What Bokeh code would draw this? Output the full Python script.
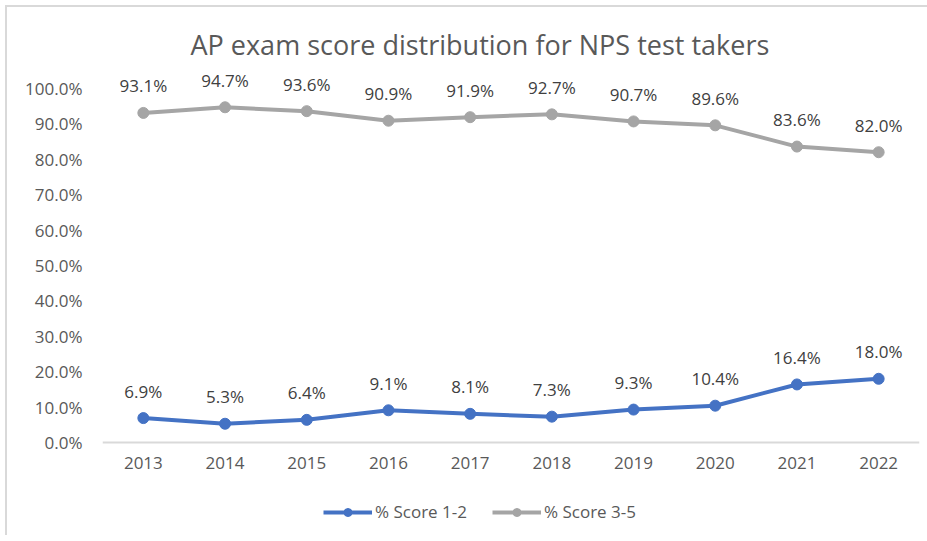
from bokeh.plotting import figure
from bokeh.models import (ColumnDataSource, FactorRange, Range1d, Legend, LegendItem,
                          PrintfTickFormatter, LabelSet)
from bokeh.core.properties import value
from bokeh.embed import file_html
from bokeh.resources import INLINE

years = ["2013", "2014", "2015", "2016", "2017", "2018", "2019", "2020", "2021", "2022"]
score_1_2 = [6.9, 5.3, 6.4, 9.1, 8.1, 7.3, 9.3, 10.4, 16.4, 18.0]
score_3_5 = [93.1, 94.7, 93.6, 90.9, 91.9, 92.7, 90.7, 89.6, 83.6, 82.0]
y_ticks = [0, 10, 20, 30, 40, 50, 60, 70, 80, 90, 100]

FONT = "Open Sans"
BLUE = "#4472C4"
GRAY = "#A5A5A5"
TXT = "#595959"

src = ColumnDataSource(dict(
    x=years, a=score_1_2, b=score_3_5,
    la=[f"{v:.1f}%" for v in score_1_2],
    lb=[f"{v:.1f}%" for v in score_3_5],
))

# frame extends above 100% and below 0% so that labels and legend are not clipped
p = figure(width=927, height=535, x_range=FactorRange(factors=years, range_padding=0),
           y_range=Range1d(-26.27, 106.5), output_backend="svg", toolbar_location=None,
           min_border_left=102, min_border_right=8, min_border_top=65, min_border_bottom=0)
p.outline_line_color = None
p.xgrid.grid_line_color = None
p.ygrid.grid_line_color = None
p.background_fill_color = "white"
p.border_fill_color = None
p.styles = {"background-color": "white",
            "box-shadow": "inset 5px 5px 0 0 white, inset 7px 7px 0 0 #d9d9d9"}

p.title.text = "AP exam score distribution for NPS test takers"
p.title.align = "left"
p.title.offset = 88
p.title.text_font = FONT
p.title.text_font_size = "27px"
p.title.text_font_style = "normal"
p.title.text_color = TXT
p.title.standoff = 5

l1 = p.line("x", "a", source=src, line_color=BLUE, line_width=4)
c1 = p.scatter("x", "a", source=src, size=11, fill_color=BLUE, line_color=BLUE)
l2 = p.line("x", "b", source=src, line_color=GRAY, line_width=4)
c2 = p.scatter("x", "b", source=src, size=11, fill_color=GRAY, line_color=GRAY)

for col, lab in (("a", "la"), ("b", "lb")):
    p.add_layout(LabelSet(x="x", y=col, text=lab, source=src, y_offset=27,
                          text_align="center", text_baseline="middle",
                          text_font=value(FONT), text_font_size="17px", text_color="#404040"))

p.yaxis.ticker = y_ticks
p.yaxis.formatter = PrintfTickFormatter(format="%.1f%%")
p.yaxis.axis_line_color = None
p.yaxis.major_tick_line_color = None
p.yaxis.minor_tick_line_color = None
p.yaxis.major_tick_out = 0
p.yaxis.major_label_standoff = 20
p.yaxis.major_label_text_font = FONT
p.yaxis.major_label_text_font_size = "17px"
p.yaxis.major_label_text_color = TXT

p.xaxis.fixed_location = 0
p.xaxis.axis_line_color = "#d9d9d9"
p.xaxis.axis_line_width = 2
p.xaxis.major_tick_line_color = None
p.xaxis.major_tick_out = 0
p.xaxis.major_label_standoff = 14
p.xaxis.major_label_text_font = FONT
p.xaxis.major_label_text_font_size = "17px"
p.xaxis.major_label_text_color = TXT

legend = Legend(items=[LegendItem(label="% Score 1-2", renderers=[l1, c1]),
                       LegendItem(label="% Score 3-5", renderers=[l2, c2])],
                orientation="horizontal", location=(221, 12))
legend.border_line_color = None
legend.background_fill_alpha = 0
legend.label_text_font = FONT
legend.label_text_font_size = "17px"
legend.label_text_color = TXT
legend.glyph_width = 49
legend.glyph_height = 20
legend.label_height = 20
legend.label_standoff = 3
legend.spacing = 25
legend.margin = 0
legend.padding = 0
p.add_layout(legend, "center")

open("out.html", "w").write(file_html(p, INLINE))
